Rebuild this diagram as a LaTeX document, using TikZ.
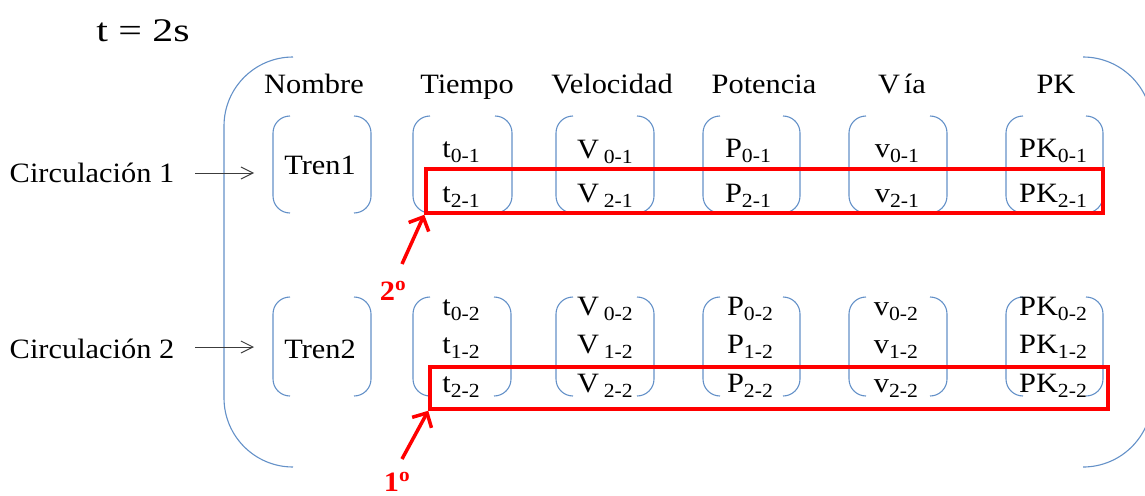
\documentclass[tikz,border=0pt]{standalone}
\usepackage{fontspec}
\setmainfont[FakeStretch=1.085]{Liberation Serif}
\usetikzlibrary{arrows.meta}
\definecolor{brblue}{RGB}{100,145,200}
\definecolor{pptred}{RGB}{255,0,0}
\definecolor{arrgray}{RGB}{60,60,60}
\newcommand\sbs[1]{\raisebox{-5pt}{\fontsize{20}{20}\selectfont #1}}
\newcommand\pp[4]{%
  \draw[br] (#1+17,#3) -- (#1,#3) -- (#1,#4) -- (#1+17,#4);
  \draw[br] (#2-17,#3) -- (#2,#3) -- (#2,#4) -- (#2-17,#4);}
\begin{document}
\begin{tikzpicture}[x=1pt,y=-1pt,
  br/.style={draw=brblue,line width=1.1pt,rounded corners=17pt},
  bigbr/.style={draw=brblue,line width=1.1pt,rounded corners=69pt},
  txt/.style={font=\fontsize{28}{28}\selectfont,inner sep=0pt,anchor=base},
  redbox/.style={draw=pptred,line width=3.5pt,inner sep=0pt},
  redarr/.style={draw=pptred,line width=3.5pt,-{Straight Barb[length=11pt,width=22pt]}},
  grayarr/.style={draw=arrgray,line width=1pt,-{Straight Barb[length=12pt,width=12pt]}},
  lbl/.style={font=\fontsize{28}{28}\selectfont\bfseries,text=pptred,inner sep=0pt,anchor=base}]
\useasboundingbox (0,0) rectangle (1145,495);
\clip (0,0) rectangle (1145,495);
% title
\node[txt] (title) at (143,42) {\scalebox{1.17}[1]{\fontsize{33}{33}\selectfont t = 2s}};
% big brackets
\draw[bigbr] (293,57) -- (224,57) -- (224,467) -- (293,467);
\draw[bigbr] (1083,57) -- (1152,57) -- (1152,467) -- (1086,467);
% headers
\node[txt] (hnom) at (314,93) {Nombre};
\node[txt] (htie) at (467,93) {Tiempo};
\node[txt] (hvel) at (612,93) {Velocidad};
\node[txt] (hpot) at (764,93) {Potencia};
\node[txt] (hvia) at (902,93) {V\hspace{4pt}ía};
\node[txt] (hpk) at (1056,93) {PK};
% row 1 brackets
\pp{273}{371}{116}{213}
\pp{413}{512}{116}{213}
\pp{556}{654}{116}{213}
\pp{703}{800}{116}{213}
\pp{849}{947}{116}{213}
\pp{1006}{1103}{116}{213}
% row 2 brackets
\pp{273}{371}{297}{396}
\pp{413}{511}{297}{396}
\pp{556}{654}{297}{396}
\pp{703}{800}{297}{396}
\pp{849}{947}{297}{396}
\pp{1006}{1103}{297}{396}
% left labels
\node[txt] (circ1) at (92,182) {Circulación 1};
\node[txt] (circ2) at (92,358) {Circulación 2};
\node[txt] (tren1) at (320,174) {Tren1};
\node[txt] (tren2) at (320,358) {Tren2};
\coordinate (a1s) at (195,173);
\coordinate (a1e) at (254,173);
\coordinate (a2s) at (195,347);
\coordinate (a2e) at (254,347);
\draw[grayarr] (a1s) -- (a1e);
\draw[grayarr] (a2s) -- (a2e);
% row 1 cells
\node[txt] (t01) at (461,157) {t\sbs{0-1}};
\node[txt] (t21) at (461,202) {t\sbs{2-1}};
\node[txt] (v01) at (605,158) {V\,\sbs{0-1}};
\node[txt] (v21) at (605,202) {V\,\sbs{2-1}};
\node[txt] (p01) at (748,157) {P\sbs{0-1}};
\node[txt] (p21) at (748,202) {P\sbs{2-1}};
\node[txt] (w01) at (897,157) {v\sbs{0-1}};
\node[txt] (w21) at (897,202) {v\sbs{2-1}};
\node[txt] (k01) at (1053,157) {PK\sbs{0-1}};
\node[txt] (k21) at (1053,202) {PK\sbs{2-1}};
% row 2 cells
\node[txt] (t02) at (461,315) {t\sbs{0-2}};
\node[txt] (t12) at (461,353) {t\sbs{1-2}};
\node[txt] (t22) at (461,392) {t\sbs{2-2}};
\node[txt] (v02) at (605,315) {V\,\sbs{0-2}};
\node[txt] (v12) at (605,353) {V\,\sbs{1-2}};
\node[txt] (v22) at (605,392) {V\,\sbs{2-2}};
\node[txt] (p02) at (750,315) {P\sbs{0-2}};
\node[txt] (p12) at (750,353) {P\sbs{1-2}};
\node[txt] (p22) at (750,392) {P\sbs{2-2}};
\node[txt] (w02) at (896,315) {v\sbs{0-2}};
\node[txt] (w12) at (896,353) {v\sbs{1-2}};
\node[txt] (w22) at (896,392) {v\sbs{2-2}};
\node[txt] (k02) at (1053,315) {PK\sbs{0-2}};
\node[txt] (k12) at (1053,353) {PK\sbs{1-2}};
\node[txt] (k22) at (1053,392) {PK\sbs{2-2}};
% red boxes
\node[redbox,minimum width=677pt,minimum height=44pt] (box1) at (764.5,191) {};
\node[redbox,minimum width=678pt,minimum height=42pt] (box2) at (769,388) {};
% red arrows and labels
\coordinate (r2s) at (402,264);
\coordinate (r1s) at (402,459);
\draw[redarr] (r2s) -- (box1.south west);
\draw[redarr] (r1s) -- (box2.south west);
\node[lbl] (l2) at (393,300) {2\textsuperscript{o}};
\node[lbl] (l1) at (397,491) {1\textsuperscript{o}};
\end{tikzpicture}
\end{document}
